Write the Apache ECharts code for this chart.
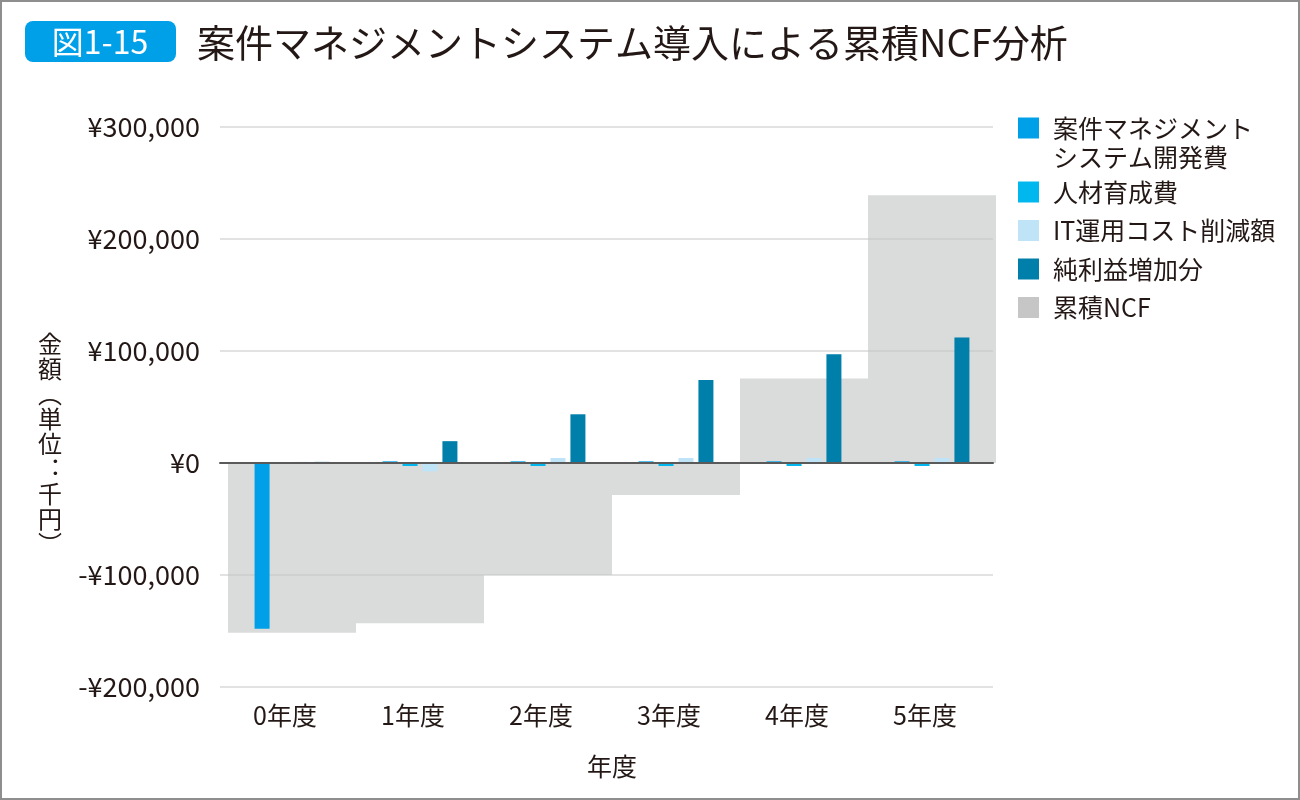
<!DOCTYPE html>
<html><head><meta charset="utf-8">
<script src="https://cdn.jsdelivr.net/npm/echarts@6/dist/echarts.min.js"></script>
<style>html,body{margin:0;padding:0;background:#fff}#c{width:1300px;height:800px}</style>
</head><body><div id="c"></div>
<script>
const categories = ['0年度','1年度','2年度','3年度','4年度','5年度'];
const devCost = [-148000, 1500, 1500, 1500, 1500, 1500];
const trainingCost = [0, -2700, -2700, -2700, -2700, -2700];
const itCostReduction = [1000, -7500, 4500, 4500, 4500, 4500];
const netProfitIncrease = [1000, 19500, 43500, 74000, 97000, 112000];
const cumulativeNCF = [-151500, -143000, -100000, -28500, 75500, 239000];
const seriesNames = ['案件マネジメントシステム開発費','人材育成費','IT運用コスト削減額','純利益増加分','累積NCF'];
const yMin = -200000, yMax = 300000, yInterval = 100000;

const FONT = 'Noto Sans CJK JP';
const TXT = '#231815';
const colors = ['#00a0e9','#00b8ee','#bfe3f7','#007fab','#c6c8c8'];

const chart = echarts.init(document.getElementById('c'), null, {renderer:'canvas'});
const barCommon = {type:'bar', barWidth:15, barGap:'33%', xAxisIndex:0, yAxisIndex:0, z:3};
chart.setOption({
  animation:false,
  textStyle:{fontFamily:FONT},
  graphic:[
    {type:'rect', shape:{x:1,y:1,width:1298,height:798}, style:{fill:'none', stroke:'#8e8e8e', lineWidth:2}, silent:true, z:0},
    {type:'rect', shape:{x:25,y:21,width:151,height:41,r:8}, style:{fill:'#00a0e9'}, z:10},
    {type:'text', style:{text:'図1-15', x:100, y:42, align:'center', verticalAlign:'middle', font:'32px '+FONT, fill:'#fff'}, z:11},
    {type:'text', style:{text:'案件マネジメントシステム導入による累積NCF分析', x:197, y:43, verticalAlign:'middle', font:'38px '+FONT, fill:TXT}, z:11},
    {type:'text', style:{text:'金\n額\n︵\n単\n位\n︓\n千\n円\n︶', x:50, y:331, align:'center', verticalAlign:'top', font:'24px '+FONT, lineHeight:25, fill:TXT}, z:11}
  ],
  legend:{
    orient:'vertical', left:1018, top:84.5, padding:0, itemGap:2.5,
    itemWidth:21, itemHeight:21, icon:'rect',
    textStyle:{fontFamily:FONT, fontSize:25, color:TXT, lineHeight:36, padding:[0,0,0,9]},
    formatter:function(n){ return n===seriesNames[0] ? '\n案件マネジメント\nシステム開発費' : n; },
    data:[
      {name:seriesNames[0], textStyle:{lineHeight:29}},
      {name:seriesNames[1]},
      {name:seriesNames[2]},
      {name:seriesNames[3]},
      {name:seriesNames[4], itemStyle:{color:'#c6c6c6', opacity:1}}
    ]
  },
  grid:[
    {left:228, right:304, top:127, bottom:113},
    {left:220, right:307, top:127, bottom:113}
  ],
  xAxis:[
    {type:'category', gridIndex:0, data:categories, axisLine:{show:false, onZero:false}, axisTick:{show:false},
     axisLabel:{fontSize:25, color:TXT, margin:16, fontFamily:FONT, padding:[0,14,0,0]},
     name:'年度', nameLocation:'middle', nameGap:67, nameTextStyle:{fontSize:25, color:TXT, fontFamily:FONT}},
    {type:'category', gridIndex:0, data:categories, show:false},
    {type:'category', gridIndex:1, data:categories, axisLabel:{show:false}, axisTick:{show:false},
     axisLine:{show:true, onZero:true, lineStyle:{color:'#5a5a5a', width:2}}, z:5}
  ],
  yAxis:[
    {type:'value', gridIndex:0, min:yMin, max:yMax, interval:yInterval, splitLine:{show:false},
     axisLine:{show:false}, axisTick:{show:false},
     axisLabel:{fontSize:27, color:TXT, margin:28, fontFamily:FONT,
       formatter:function(v){ return (v<0?'-':'') + '¥' + Math.abs(v).toLocaleString('en-US'); }}},
    {type:'value', gridIndex:1, min:yMin, max:yMax, interval:yInterval, axisLabel:{show:false},
     axisLine:{show:false}, axisTick:{show:false}, splitLine:{show:true, lineStyle:{color:'#d9d9d9', width:1.5}}}
  ],
  series:[
    Object.assign({name:seriesNames[0], data:devCost, itemStyle:{color:colors[0]}}, barCommon),
    Object.assign({name:seriesNames[1], data:trainingCost, itemStyle:{color:colors[1]}}, barCommon),
    Object.assign({name:seriesNames[2], data:itCostReduction, itemStyle:{color:colors[2]}}, barCommon),
    Object.assign({name:seriesNames[3], data:netProfitIncrease, itemStyle:{color:colors[3]}}, barCommon),
    {name:seriesNames[4], type:'bar', xAxisIndex:1, yAxisIndex:0, data:cumulativeNCF, barWidth:'100%', barCategoryGap:0,
     itemStyle:{color:colors[4], opacity:0.65}, z:1}
  ]
});
</script></body></html>
